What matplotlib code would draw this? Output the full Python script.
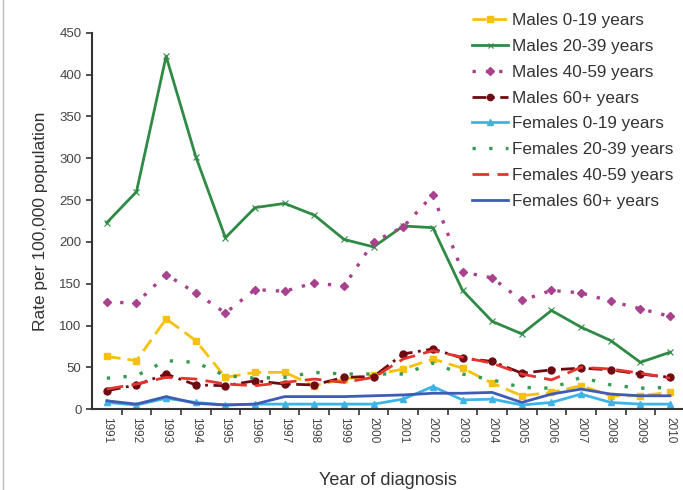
import matplotlib
matplotlib.use("Agg")
import matplotlib.pyplot as plt
from matplotlib.lines import Line2D

plt.rcParams['font.family'] = ['Liberation Sans', 'DejaVu Sans']

years = [str(y) for y in range(1991, 2011)]

males_0_19 = [63, 58, 108, 82, 38, 44, 44, 28, 36, 41, 48, 60, 49, 31, 16, 20, 28, 16, 16, 20]
males_20_39 = [223, 260, 422, 302, 205, 241, 246, 232, 203, 194, 219, 217, 142, 105, 90, 118, 98, 82, 56, 68]
males_40_59 = [128, 127, 161, 139, 115, 143, 141, 151, 147, 200, 218, 256, 164, 157, 130, 142, 139, 129, 120, 111]
males_60p = [22, 29, 42, 29, 28, 34, 30, 29, 38, 39, 66, 72, 61, 57, 43, 47, 49, 47, 42, 38]
females_0_19 = [8, 5, 13, 8, 5, 6, 6, 6, 6, 6, 12, 27, 11, 12, 5, 8, 18, 8, 6, 6]
females_20_39 = [37, 40, 58, 56, 40, 37, 38, 44, 42, 42, 42, 55, 42, 35, 26, 25, 38, 29, 25, 26]
females_40_59 = [24, 30, 38, 36, 30, 28, 32, 36, 32, 38, 60, 70, 62, 55, 42, 35, 50, 48, 43, 37]
females_60p = [10, 6, 15, 7, 5, 6, 15, 15, 15, 16, 17, 19, 19, 20, 8, 18, 24, 18, 16, 16]

fig = plt.figure(figsize=(6.83, 4.90), dpi=100)
ax = fig.add_axes([0.1347, 0.165, 0.868, 0.768])

x = list(range(len(years)))

series = [
    ("Males 0-19 years", males_0_19, dict(color="#F6C10E", ls=(0, (5, 2.5)), lw=2.0, marker="s", ms=5)),
    ("Males 20-39 years", males_20_39, dict(color="#2F8A45", ls="-", lw=2.0, marker="x", ms=4, mew=0.8)),
    ("Males 40-59 years", males_40_59, dict(color="#A8418E", ls=(0, (1, 3)), lw=2.4, marker="D", ms=4)),
    ("Males 60+ years", males_60p, dict(color="#6E0A12", ls=(0, (5, 2, 1, 2)), lw=2.0, marker="o", ms=5)),
    ("Females 0-19 years", females_0_19, dict(color="#3DB3E6", ls="-", lw=2.0, marker="^", ms=5)),
    ("Females 20-39 years", females_20_39, dict(color="#3A9A55", ls=(0, (1, 4)), lw=2.4)),
    ("Females 40-59 years", females_40_59, dict(color="#E3342F", ls=(0, (6, 3)), lw=2.0)),
    ("Females 60+ years", females_60p, dict(color="#3F5CB5", ls="-", lw=2.0)),
]

for label, vals, st in series:
    ax.plot(x, vals, label=label, **st)

ax.set_xlim(-0.5, len(years) - 0.5)
ax.set_ylim(0, 450)
ax.set_yticks(range(0, 451, 50))
ax.set_xticks(x)
ax.set_xticklabels(years, rotation=-90, fontsize=8.5, color="#444444")
ax.tick_params(axis="x", length=0, pad=6)
ax.set_xticks([i + 0.5 for i in x[:-1]], minor=True)
ax.tick_params(axis="x", which="minor", length=4, width=1.2, color="#333333", direction="out")
ax.tick_params(axis="y", labelsize=9.5, labelcolor="#444444", length=4, width=1.2, color="#333333")

for s in ("top", "right"):
    ax.spines[s].set_visible(False)
for s in ("left", "bottom"):
    ax.spines[s].set_color("#333333")
    ax.spines[s].set_linewidth(1.5)

ax.set_ylabel("Rate per 100,000 population", fontsize=12.5, color="#333333", labelpad=8)
ax.set_xlabel("Year of diagnosis", fontsize=13, color="#333333", labelpad=20)

leg = ax.legend(loc="upper right", bbox_to_anchor=(0.980, 1.052), frameon=False,
                fontsize=12.3, handlelength=2.1, handletextpad=0.2, labelspacing=0.63,
                borderaxespad=0.0, borderpad=0.0, markerscale=0.9)
for t in leg.get_texts():
    t.set_color("#333333")

fig.add_artist(Line2D([0.004, 0.004], [0.0, 1.0], transform=fig.transFigure, color="#BBBBBB", lw=1))

fig.savefig("out.png", dpi=100)
